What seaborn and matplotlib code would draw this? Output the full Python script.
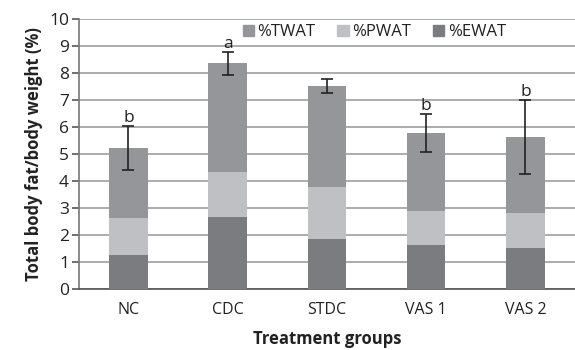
import numpy as np
import pandas as pd
import matplotlib
matplotlib.use("Agg")
import matplotlib.pyplot as plt
import seaborn as sns
from matplotlib.patches import Patch

categories = ["NC", "CDC", "STDC", "VAS 1", "VAS 2"]
ewat = [1.25, 2.65, 1.85, 1.64, 1.51]
pwat = [1.37, 1.68, 1.93, 1.25, 1.30]
twat = [2.61, 4.02, 3.75, 2.89, 2.82]
err = [0.81, 0.43, 0.26, 0.69, 1.38]
letters = ["b", "a", "", "b", "b"]
yticks = list(range(0, 11))

c_twat = "#95969a"
c_pwat = "#bfc0c3"
c_ewat = "#7b7c80"
grid_c = "#a6a6a6"

sns.set_theme(style="white")
plt.rcParams["font.family"] = ["Open Sans", "DejaVu Sans"]

df = pd.DataFrame({"group": categories, "EWAT": ewat, "PWAT": pwat, "TWAT": twat})
df["top_p"] = df["EWAT"] + df["PWAT"]
df["total"] = df["top_p"] + df["TWAT"]

fig = plt.figure(figsize=(5.75, 3.5), dpi=100)
ax = fig.add_axes([0.137, 0.174, 0.863, 0.772])

ax.set_axisbelow(True)
ax.yaxis.grid(True, color=grid_c, linewidth=1.3)
sns.barplot(data=df, x="group", y="total", color=c_twat, width=0.39, ax=ax, saturation=1, zorder=2)
sns.barplot(data=df, x="group", y="top_p", color=c_pwat, width=0.39, ax=ax, saturation=1, zorder=3)
sns.barplot(data=df, x="group", y="EWAT", color=c_ewat, width=0.39, ax=ax, saturation=1, zorder=4)
for p in ax.patches:
    p.set_edgecolor("none")

xpos = np.arange(len(categories))
ax.errorbar(xpos, df["total"], yerr=err, fmt="none", ecolor="#222222",
            elinewidth=1.2, capsize=4, capthick=1.2, zorder=6)
for x, t, e, l in zip(xpos, df["total"], err, letters):
    if l:
        ax.annotate(l, (x, t + e), xytext=(0, 0), textcoords="offset points",
                    ha="center", va="bottom", fontsize=12.5, color="#222222")

ax.set_ylim(0, 10)
ax.set_xlim(-0.5, len(categories) - 0.5)
ax.set_yticks(yticks)
ax.set_yticklabels([str(v) for v in yticks], fontsize=12.5, color="#222222")
ax.set_xticks(xpos)
ax.set_xticklabels(categories, fontsize=11.5, color="#222222")
ax.set_xticks(np.arange(len(categories) + 1) - 0.5, minor=True)
ax.tick_params(axis="x", which="major", length=0, pad=9)
ax.tick_params(axis="x", which="minor", length=5, width=1.2, color="#555555", direction="out")
ax.tick_params(axis="y", length=5, width=1.2, color="#555555", direction="out", left=True, pad=2)

for s in ["top", "right"]:
    ax.spines[s].set_visible(False)
ax.spines["left"].set_color("#777777")
ax.spines["bottom"].set_color("#555555")
ax.spines["left"].set_linewidth(1.2)
ax.spines["bottom"].set_linewidth(1.2)

ax.set_ylabel("Total body fat/body weight (%)", fontsize=12, fontweight="bold", color="#222222", labelpad=4)
ax.set_xlabel("Treatment groups", fontsize=12, fontweight="bold", color="#222222", labelpad=9)

handles = [Patch(color=c_twat, label="%TWAT"), Patch(color=c_pwat, label="%PWAT"), Patch(color=c_ewat, label="%EWAT")]
ax.legend(handles=handles, ncol=3, loc="center left", bbox_to_anchor=(0.33, 0.95), frameon=False,
          fontsize=12, handlelength=0.7, handleheight=0.7, handletextpad=0.2, columnspacing=1.3,
          labelcolor="#222222", borderpad=0, borderaxespad=0)

fig.savefig("out.png", dpi=100)
